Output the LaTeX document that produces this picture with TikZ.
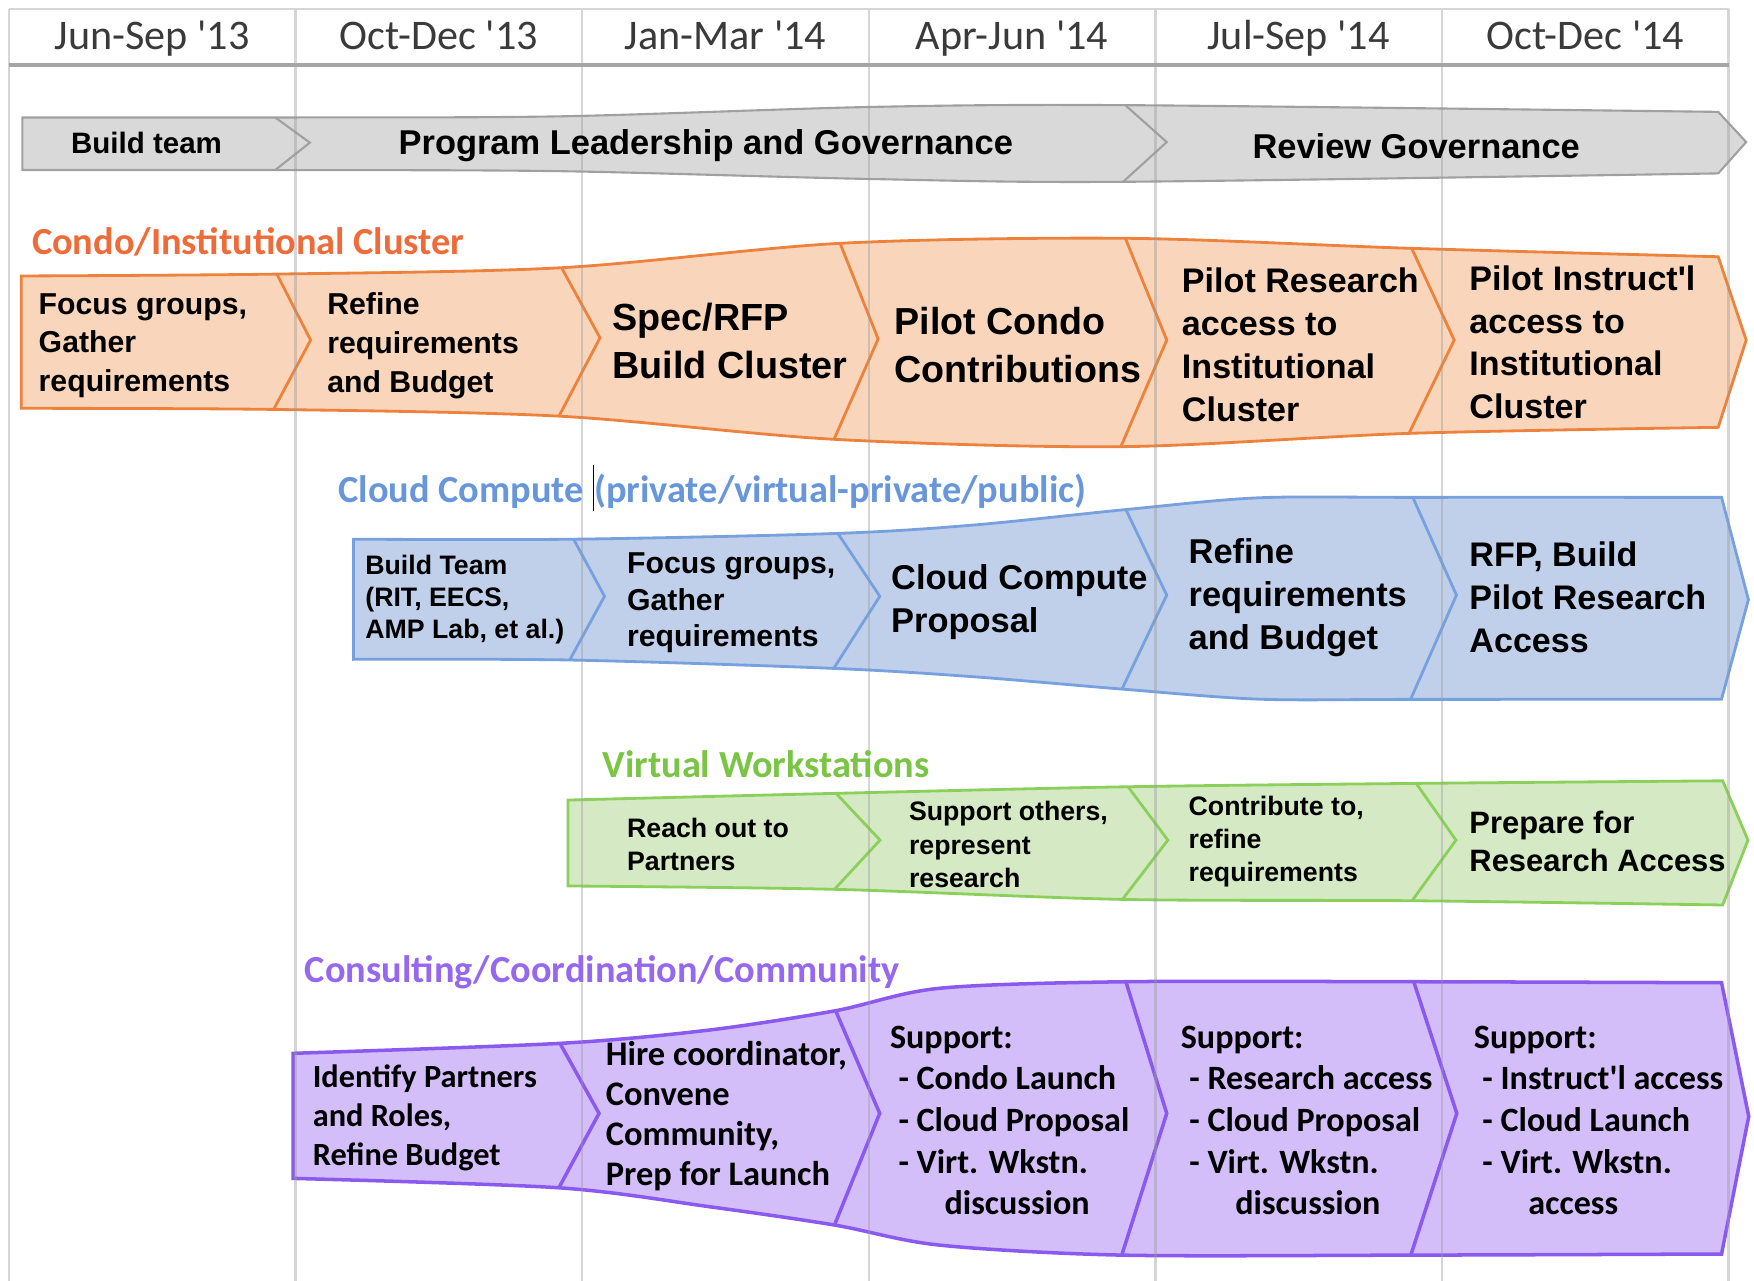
\documentclass[tikz,border=0pt]{standalone}
\usepackage{fontspec}
\setmainfont{Liberation Sans}
\newfontfamily\arial{Liberation Sans}
\newfontfamily\calibri{Carlito}

\definecolor{headtext}{RGB}{58,58,58}
\definecolor{headrule}{RGB}{165,165,165}
\definecolor{govfill}{RGB}{217,217,217}
\definecolor{govline}{RGB}{160,160,160}
\definecolor{condotitle}{RGB}{237,108,58}
\definecolor{condofill}{RGB}{248,213,187}
\definecolor{condoline}{RGB}{237,130,60}
\definecolor{cloudtitle}{RGB}{104,150,218}
\definecolor{cloudfill}{RGB}{192,208,234}
\definecolor{cloudline}{RGB}{118,160,222}
\definecolor{virttitle}{RGB}{122,196,70}
\definecolor{virtfill}{RGB}{213,234,196}
\definecolor{virtline}{RGB}{140,208,92}
\definecolor{consulttitle}{RGB}{150,104,240}
\definecolor{consultfill}{RGB}{212,190,250}
\definecolor{consultline}{RGB}{138,90,240}

\begin{document}
\begin{tikzpicture}[
    x=0.11186mm, y=-0.11186mm,
    nodes={inner sep=0pt},
    grid/.style={draw=black!40, draw opacity=0.4, line width=0.7pt},
    head/.style={anchor=base, text=headtext, font=\calibri\fontsize{12}{14}\selectfont},
    title/.style={anchor=west, font=\calibri\bfseries\fontsize{10.9}{13}\selectfont},
    stage/.style 2 args={anchor=west, align=left, font=\arial\bfseries\fontsize{#1}{#2}\selectfont},
    cstage/.style 2 args={anchor=west, align=left, font=\calibri\bfseries\fontsize{#1}{#2}\selectfont},
    edge/.style={smooth, tension=0.5},
    gov/.style={fill=govfill, draw=govline, line width=0.6pt},
    condo/.style={fill=condofill, draw=condoline, line width=0.8pt},
    cloud/.style={fill=cloudfill, draw=cloudline, line width=0.8pt},
    virt/.style={fill=virtfill, draw=virtline, line width=0.8pt},
    consult/.style={fill=consultfill, draw=consultline, line width=1pt}
]
    \useasboundingbox (0,0) rectangle (1568,1145);

    % Corner points of the bands (t = top, x = tip, b = bottom)
    \coordinate (g0t) at (20,105);      \coordinate (g0b) at (20,152);
    \coordinate (g1t) at (246,105);     \coordinate (g1x) at (277,127.5);  \coordinate (g1b) at (246,152);
    \coordinate (g2t) at (1006,94);     \coordinate (g2x) at (1043,127);   \coordinate (g2b) at (1004,162.5);
    \coordinate (g3t) at (1536,100);    \coordinate (g3x) at (1561,127);   \coordinate (g3b) at (1536,155);

    \coordinate (c0t) at (19,246.7);    \coordinate (c0b) at (19,365);
    \coordinate (c1t) at (247.5,245);   \coordinate (c1x) at (277.7,304);  \coordinate (c1b) at (244.6,366);
    \coordinate (c2t) at (502,239.3);   \coordinate (c2x) at (536.4,302);  \coordinate (c2b) at (499.7,372);
    \coordinate (c3t) at (751,217.5);   \coordinate (c3x) at (785,303);    \coordinate (c3b) at (745.6,392.7);
    \coordinate (c4t) at (1006,213);    \coordinate (c4x) at (1043,304);   \coordinate (c4b) at (1002,399.3);
    \coordinate (c5t) at (1262,222);    \coordinate (c5x) at (1300,304);   \coordinate (c5b) at (1259.6,387.4);
    \coordinate (c6t) at (1536,229.5);  \coordinate (c6x) at (1561,304);   \coordinate (c6b) at (1536,382);

    \coordinate (k0t) at (316,482);     \coordinate (k0b) at (316,589.4);
    \coordinate (k1t) at (512.8,482);   \coordinate (k1x) at (540.4,533);  \coordinate (k1b) at (509.3,590);
    \coordinate (k2t) at (749,476.8);   \coordinate (k2x) at (786.5,533);  \coordinate (k2b) at (745.3,597.5);
    \coordinate (k3t) at (1006.5,455.5); \coordinate (k3x) at (1043,532);  \coordinate (k3b) at (1003,616);
    \coordinate (k4t) at (1263,444.6);  \coordinate (k4x) at (1302,532);   \coordinate (k4b) at (1261,625.2);
    \coordinate (k5t) at (1539,444.6);  \coordinate (k5x) at (1563,536);   \coordinate (k5b) at (1539,625);

    \coordinate (v0t) at (507.8,715.2); \coordinate (v0b) at (507.8,792);
    \coordinate (v1t) at (747.4,709.2); \coordinate (v1x) at (786.7,751);  \coordinate (v1b) at (746,795);
    \coordinate (v2t) at (1008.4,703.3); \coordinate (v2x) at (1044,751);  \coordinate (v2b) at (1003.4,804);
    \coordinate (v3t) at (1266,700.3);  \coordinate (v3x) at (1301.6,751); \coordinate (v3b) at (1262.3,805.2);
    \coordinate (v4t) at (1540,698);    \coordinate (v4x) at (1562.6,751); \coordinate (v4b) at (1540,809);

    \coordinate (p0t) at (262,941.6);   \coordinate (p0b) at (262,1053.4);
    \coordinate (p1t) at (500.6,932.7); \coordinate (p1x) at (535.5,995.3); \coordinate (p1b) at (499.6,1061.8);
    \coordinate (p2t) at (747,903.5);   \coordinate (p2x) at (786.4,995.3); \coordinate (p2b) at (746,1095.1);
    \coordinate (p3t) at (1006.5,877.6); \coordinate (p3x) at (1043,995.3); \coordinate (p3b) at (1002.8,1122);
    \coordinate (p4t) at (1263.8,877.6); \coordinate (p4x) at (1302.3,995.3); \coordinate (p4b) at (1261.2,1122);
    \coordinate (p5t) at (1539,878.5);  \coordinate (p5x) at (1563.3,998);  \coordinate (p5b) at (1539,1121);

    % Band outlines
    \filldraw[gov] plot[edge] coordinates {(g0t) (g1t) (500,104) (778,95.6) (g2t) (g3t)} -- (g3x)
        -- plot[edge] coordinates {(g3b) (g2b) (778,160) (500,153) (g1b) (g0b)} -- cycle;
    \filldraw[condo] plot[edge] coordinates {(c0t) (c1t) (c2t) (c3t) (c4t) (c5t) (c6t)} -- (c6x)
        -- plot[edge] coordinates {(c6b) (c5b) (c4b) (c3b) (c2b) (c1b) (c0b)} -- cycle;
    \filldraw[cloud] plot[edge] coordinates {(k0t) (k1t) (k2t) (870.7,469.3) (k3t) (1125,445) (k4t) (k5t)} -- (k5x)
        -- plot[edge] coordinates {(k5b) (k4b) (1125,625) (k3b) (870.7,605) (k2b) (k1b) (k0b)} -- cycle;
    \filldraw[virt] plot[edge] coordinates {(v0t) (v1t) (v2t) (v3t) (v4t)} -- (v4x)
        -- plot[edge] coordinates {(v4b) (v3b) (v2b) (v1b) (v0b)} -- cycle;
    \filldraw[consult] plot[edge] coordinates {(p0t) (p1t) (634,920.8) (p2t) (839.5,883.5) (p3t) (p4t) (p5t)} -- (p5x)
        -- plot[edge] coordinates {(p5b) (p4b) (p3b) (839.5,1113) (p2b) (634,1078.7) (p1b) (p0b)} -- cycle;

    % Chevron separators
    \draw[gov, fill=none] (g1t) -- (g1x) -- (g1b) (g2t) -- (g2x) -- (g2b);
    \draw[condo, fill=none] (c1t) -- (c1x) -- (c1b) (c2t) -- (c2x) -- (c2b) (c3t) -- (c3x) -- (c3b)
        (c4t) -- (c4x) -- (c4b) (c5t) -- (c5x) -- (c5b);
    \draw[cloud, fill=none] (k1t) -- (k1x) -- (k1b) (k2t) -- (k2x) -- (k2b) (k3t) -- (k3x) -- (k3b)
        (k4t) -- (k4x) -- (k4b);
    \draw[virt, fill=none] (v1t) -- (v1x) -- (v1b) (v2t) -- (v2x) -- (v2b) (v3t) -- (v3x) -- (v3b);
    \draw[consult, fill=none] (p1t) -- (p1x) -- (p1b) (p2t) -- (p2x) -- (p2b) (p3t) -- (p3x) -- (p3b)
        (p4t) -- (p4x) -- (p4b);

    % Quarter columns
    \draw[grid] (8,8) -- (8,1145) (264.2,8) -- (264.2,1145) (520.4,8) -- (520.4,1145)
        (776.6,8) -- (776.6,1145) (1032.8,8) -- (1032.8,1145) (1289,8) -- (1289,1145)
        (1545.2,8) -- (1545.2,1145) (8,8) -- (1545.2,8);
    \draw[headrule, line width=1pt] (8,58) -- (1545.2,58);

    \node[head] (h1) at (136.1,44) {Jun-Sep '13};
    \node[head] (h2) at (392.3,44) {Oct-Dec '13};
    \node[head] (h3) at (648.5,44) {Jan-Mar '14};
    \node[head] (h4) at (904.7,44) {Apr-Jun '14};
    \node[head] (h5) at (1160.9,44) {Jul-Sep '14};
    \node[head] (h6) at (1417.1,44) {Oct-Dec '14};

    % Governance
    \node[stage={8.4}{10}, anchor=center] (build) at (131,128) {Build team};
    \node[stage={9.8}{12}, anchor=center] (lead) at (631,130) {Program Leadership and Governance};
    \node[stage={9.8}{12}, anchor=center] (review) at (1266,131) {Review Governance};

    % Condo cluster
    \node[title, text=condotitle] (condo) at (28,216) {Condo/Institutional Cluster};
    \node[stage={8.6}{11}] (c1) at (34,309) {Focus groups,\\Gather\\requirements};
    \node[stage={8.6}{11}] (c2) at (292,309) {Refine\\requirements\\and Budget};
    \node[stage={10.75}{13.7}] (c3) at (547,304.5) {Spec/RFP\\Build Cluster};
    \node[stage={10.7}{13.7}] (c4) at (799,308.5) {Pilot Condo\\Contributions};
    \node[stage={9.7}{12.2}] (c5) at (1056,308.5) {Pilot Research\\access to\\Institutional\\Cluster};
    \node[stage={9.7}{12.2}] (c6) at (1313,306) {Pilot Instruct'l\\access to\\Institutional\\Cluster};

    % Cloud compute
    \node[title, text=cloudtitle] (cloud) at (302,436)
        {Cloud Compute \textcolor{black}{\rule[-0.22em]{0.5pt}{1.2em}}(private/virtual-private/public)};
    \node[stage={7.6}{9.2}] (k1) at (326,536) {Build Team\\(RIT, EECS,\\AMP Lab, et al.)};
    \node[stage={8.6}{10.35}] (k2) at (560,539) {Focus groups,\\Gather\\requirements};
    \node[stage={9.8}{12.1}] (k3) at (796,538) {Cloud Compute\\Proposal};
    \node[stage={9.8}{12.25}] (k4) at (1062,534.5) {Refine\\requirements\\and Budget};
    \node[stage={9.7}{12.25}] (k5) at (1313,534) {RFP, Build\\Pilot Research\\Access};

    % Virtual workstations
    \node[title, text=virttitle] (virt) at (538,683) {Virtual Workstations};
    \node[stage={7.6}{9.55}] (v1) at (560,755) {Reach out to\\Partners};
    \node[stage={7.6}{9.55}] (v2) at (812,755) {Support others,\\represent\\research};
    \node[stage={7.6}{9.4}] (v3) at (1062,752.5) {Contribute to,\\refine\\requirements};
    \node[stage={8.8}{10.8}] (v4) at (1313,752.5) {Prepare for\\Research Access};

    % Consulting
    \node[title, text=consulttitle] (consult) at (272,869) {Consulting/Coordination/Community};
    \node[cstage={9.2}{11.1}] (p1) at (279,999) {Identify Partners\\and Roles,\\Refine Budget};
    \node[cstage={9.8}{11.4}] (p2) at (541,997.5) {Hire coordinator,\\Convene\\Community,\\Prep for Launch};
    \node[cstage={9.7}{11.85}] (p3) at (795,1001.5)
        {Support:\\\hspace*{0.25em}- Condo Launch\\\hspace*{0.25em}- Cloud Proposal\\\hspace*{0.25em}- Virt. Wkstn.\\\hspace*{1.6em}discussion};
    \node[cstage={9.7}{11.85}] (p4) at (1055,1001.5)
        {Support:\\\hspace*{0.25em}- Research access\\\hspace*{0.25em}- Cloud Proposal\\\hspace*{0.25em}- Virt. Wkstn.\\\hspace*{1.6em}discussion};
    \node[cstage={9.7}{11.85}] (p5) at (1317,1001.5)
        {Support:\\\hspace*{0.25em}- Instruct'l access\\\hspace*{0.25em}- Cloud Launch\\\hspace*{0.25em}- Virt. Wkstn.\\\hspace*{1.6em}access};
\end{tikzpicture}
\end{document}
